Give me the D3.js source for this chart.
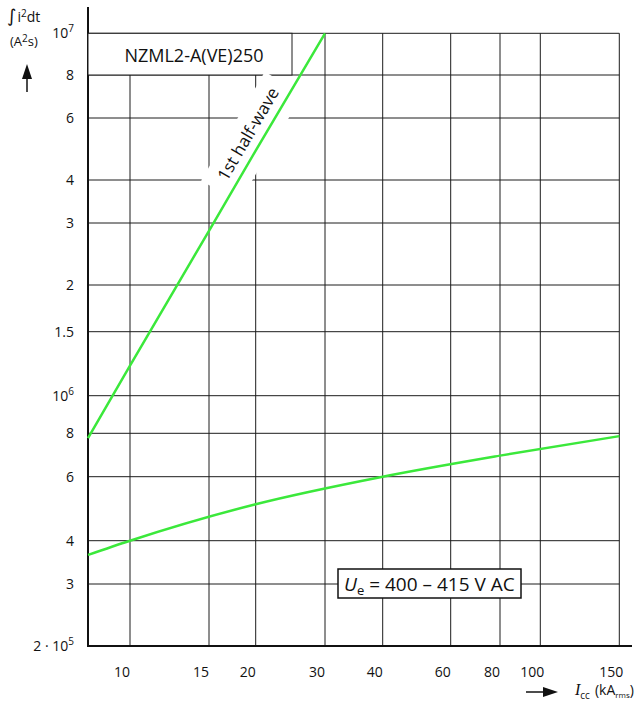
<!DOCTYPE html>
<html><head><meta charset="utf-8">
<script src="https://cdn.jsdelivr.net/npm/d3@7"></script>
<style>
html,body{margin:0;padding:0;background:#fff;}
svg{display:block;font-family:"Open Sans",sans-serif;}
</style></head><body>
<svg id="chart" width="635" height="709"></svg>
<script>
// Short-circuit current I_cc (kA rms) — tick values and labels
const currentTicks = [10, 15, 20, 30, 40, 60, 80, 100, 150];
const currentTickLabels = ["10", "15", "20", "30", "40", "60", "80", "100", "150"];

// Let-through energy ∫i²dt (A²s) — tick values and labels ("^" marks an exponent)
const energyTicks = [2e5, 3e5, 4e5, 6e5, 8e5, 1e6, 1.5e6, 2e6, 3e6, 4e6, 6e6, 8e6, 1e7];
const energyTickLabels = ["2 · 10^5", "3", "4", "6", "8", "10^6", "1.5", "2", "3", "4", "6", "8", "10^7"];

// Curve: 1st half-wave
const halfWaveCurrent = [7.9, 10, 15, 20, 30];
const halfWaveEnergy = [7.75e5, 1.21e6, 2.85e6, 4.85e6, 1e7];

// Curve: Ue = 400 – 415 V AC
const ueCurrent = [7.9, 10, 20, 40, 80, 150];
const ueEnergy = [3.64e5, 4.0e5, 5.04e5, 6.0e5, 6.9e5, 7.85e5];

const svg = d3.select("#chart");
const GREEN = "#3be83b";
const GRID = "#1c1c1c";

// Log scales calibrated to the printed grid of the datasheet
const x = d3.scaleLog()
  .domain([7.9, ...currentTicks])
  .range([88, 130, 209, 255.7, 325, 382.7, 450.7, 500, 540.3, 619.3]);
const y = d3.scaleLog()
  .domain(energyTicks)
  .range([646, 584, 540.7, 476.7, 433.3, 395.7, 331.7, 285, 223, 180, 118, 75, 33.3]);

const x0 = x(7.9), x1 = x(150);
const yTop = y(1e7), yBottom = y(2e5);

// Grid
const grid = svg.append("g").attr("stroke", GRID).attr("stroke-width", 1).attr("fill", "none");
grid.selectAll("line.h").data(energyTicks.filter(v => v > 2e5)).join("line")
  .attr("class", "h")
  .attr("x1", x0).attr("x2", x1)
  .attr("y1", d => y(d)).attr("y2", d => y(d));
grid.selectAll("line.v").data(currentTicks).join("line")
  .attr("class", "v")
  .attr("x1", d => x(d)).attr("x2", d => x(d))
  .attr("y1", yTop).attr("y2", yBottom);

// Axis lines
svg.append("line").attr("x1", x0).attr("x2", x0).attr("y1", 7).attr("y2", yBottom + 1)
  .attr("stroke", "#111").attr("stroke-width", 2);
svg.append("line").attr("x1", x0 - 1).attr("x2", 632).attr("y1", yBottom).attr("y2", yBottom)
  .attr("stroke", "#111").attr("stroke-width", 2);

// Device designation box
svg.append("rect")
  .attr("x", x0).attr("y", yTop)
  .attr("width", 292 - x0).attr("height", y(8e6) - yTop)
  .attr("fill", "#fff").attr("stroke", GRID).attr("stroke-width", 1);
svg.append("text")
  .attr("x", (x0 + 292) / 2 + 4).attr("y", (yTop + y(8e6)) / 2 + 1)
  .attr("text-anchor", "middle").attr("dominant-baseline", "central")
  .attr("font-size", 18).attr("fill", "#111")
  .text("NZML2-A(VE)250");

// Y tick labels
const yLabels = svg.append("g").attr("font-size", 14).attr("fill", "#111").attr("text-anchor", "end");
energyTicks.forEach((v, i) => {
  const lab = energyTickLabels[i];
  const t = yLabels.append("text").attr("x", 74).attr("y", y(v)).attr("dy", "0.36em");
  const parts = lab.split("^");
  t.append("tspan").text(parts[0]);
  if (parts.length > 1) {
    t.append("tspan").attr("font-size", 10).attr("dy", "-0.6em").text(parts[1]);
  }
});

// X tick labels
const xLabels = svg.append("g").attr("font-size", 14).attr("fill", "#111").attr("text-anchor", "middle");
currentTicks.forEach((v, i) => {
  xLabels.append("text").attr("x", x(v) - 8).attr("y", 677).text(currentTickLabels[i]);
});

// Y axis title
const yt = svg.append("text").attr("x", 7).attr("y", 22).attr("font-size", 14).attr("fill", "#111");
yt.append("tspan").attr("font-style", "italic").attr("font-family", "DejaVu Sans").attr("font-size", 18).text("∫");
yt.append("tspan").attr("dx", 1).text("i");
yt.append("tspan").attr("font-size", 10).attr("dy", -5).text("2");
yt.append("tspan").attr("dy", 5).text("dt");
const ya = svg.append("text").attr("x", 10).attr("y", 46).attr("font-size", 13).attr("fill", "#111");
ya.append("tspan").text("(A");
ya.append("tspan").attr("font-size", 10).attr("dy", -4).text("2");
ya.append("tspan").attr("dy", 4).text("s)");
svg.append("line").attr("x1", 27).attr("x2", 27).attr("y1", 92).attr("y2", 74)
  .attr("stroke", "#111").attr("stroke-width", 1.5);
svg.append("path").attr("d", "M22,79 L27,64 L32,79 Z").attr("fill", "#111");

// X axis title
svg.append("line").attr("x1", 526).attr("x2", 548).attr("y1", 692).attr("y2", 692)
  .attr("stroke", "#111").attr("stroke-width", 1.5);
svg.append("path").attr("d", "M543,687 L558,692 L543,697 Z").attr("fill", "#111");
const xt = svg.append("text").attr("x", 575).attr("y", 695).attr("font-size", 14).attr("fill", "#111");
xt.append("tspan").attr("font-family", "Liberation Serif").attr("font-style", "italic").attr("font-size", 16).text("I");
xt.append("tspan").attr("font-size", 10).attr("dy", 4).text("cc");
xt.append("tspan").attr("dy", -4).attr("dx", 5).text("(kA");
xt.append("tspan").attr("font-size", 8).attr("dy", 3).text("rms");
xt.append("tspan").attr("dy", -3).text(")");

// Curves
const halfWaveLine = d3.line().x(d => x(d[0])).y(d => y(d[1]));
const ueLine = d3.line().x(d => x(d[0])).y(d => y(d[1])).curve(d3.curveMonotoneX);
const halfWave = d3.zip(halfWaveCurrent, halfWaveEnergy);
const ue = d3.zip(ueCurrent, ueEnergy);

// "1st half-wave" label along the steep curve, with a white knock-out behind it
const pA = [x(halfWaveCurrent[0]), y(halfWaveEnergy[0])];
const pB = [x(halfWaveCurrent[halfWaveCurrent.length - 1]), y(halfWaveEnergy[halfWaveEnergy.length - 1])];
const ang = Math.atan2(pB[1] - pA[1], pB[0] - pA[0]) * 180 / Math.PI;
const len = Math.hypot(pB[0] - pA[0], pB[1] - pA[1]);
const ux = (pB[0] - pA[0]) / len, uy = (pB[1] - pA[1]) / len;
const along = 0.732 * len, offset = 15.5;
const lx = pA[0] + ux * along + uy * offset;
const ly = pA[1] + uy * along - ux * offset;
const lab = svg.append("g").attr("transform", `translate(${lx},${ly}) rotate(${ang})`);
lab.append("rect").attr("x", -64).attr("y", -17).attr("width", 126).attr("height", 44).attr("fill", "#fff");
lab.append("text").attr("text-anchor", "middle").attr("dy", "0.35em")
  .attr("font-size", 17).attr("fill", "#111").text("1st half-wave");

// Voltage label box
const ueBox = svg.append("g");
ueBox.append("rect").attr("x", 338).attr("y", 569).attr("width", 183).attr("height", 29)
  .attr("fill", "#fff").attr("stroke", "#111").attr("stroke-width", 1.5);
const ut = ueBox.append("text").attr("x", 344).attr("y", 591).attr("font-size", 19).attr("fill", "#111");
ut.append("tspan").attr("font-style", "italic").text("U");
ut.append("tspan").attr("font-size", 13).attr("dy", 4).text("e");
ut.append("tspan").attr("dy", -4).text(" = 400 – 415 V AC");

svg.append("path").datum(halfWave).attr("d", halfWaveLine)
  .attr("fill", "none").attr("stroke", GREEN).attr("stroke-width", 2.5);
svg.append("path").datum(ue).attr("d", ueLine)
  .attr("fill", "none").attr("stroke", GREEN).attr("stroke-width", 2.5);
</script>
</body></html>
